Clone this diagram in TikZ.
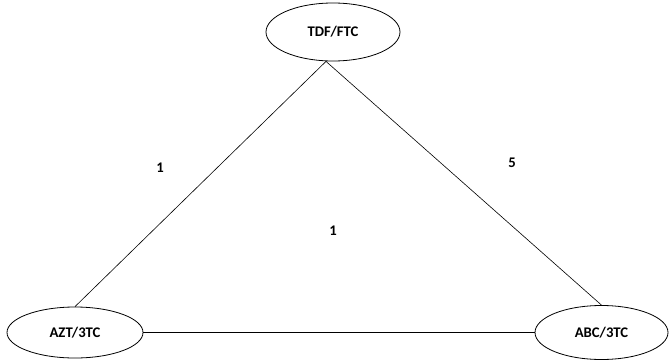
\documentclass[tikz,border=0pt]{standalone}
\usepackage{fontspec}
\setmainfont{Carlito}
\usetikzlibrary{shapes.geometric,positioning}

\begin{document}
\begin{tikzpicture}[x=1pt,y=1pt,
	regimen/.style={ellipse,draw,line width=0.8pt,minimum width=134pt,minimum height=58pt,inner sep=0pt,
		font=\bfseries\fontsize{14.7}{17}\selectfont},
	weight/.style={inner sep=0pt,font=\bfseries\fontsize{14.7}{17}\selectfont},
	link/.style={line width=0.6pt}]
	\useasboundingbox (0,0) rectangle (669,360);
 	 % regimens
	\node[regimen] (tdf) at (333,328) {TDF/FTC};
	\node[regimen,minimum width=136pt,minimum height=51pt] (azt) at (75,27.5) {AZT/3TC};
	\node[regimen,minimum width=133pt,minimum height=54pt] (abc) at (601.5,27.5) {ABC/3TC};
	\coordinate (apex) at ([xshift=-7pt]tdf.south);
	% switches
	\draw[link] (apex) -- (azt.north);
	\draw[link] (apex) -- (abc.north);
	\draw[link] (azt) -- (abc);
	\node[weight] (w1) at (160,192) {1};
	\node[weight] (w2) at (512,197) {5};
	\node[weight] (w3) at (333,129) {1};
\end{tikzpicture}
\end{document}
